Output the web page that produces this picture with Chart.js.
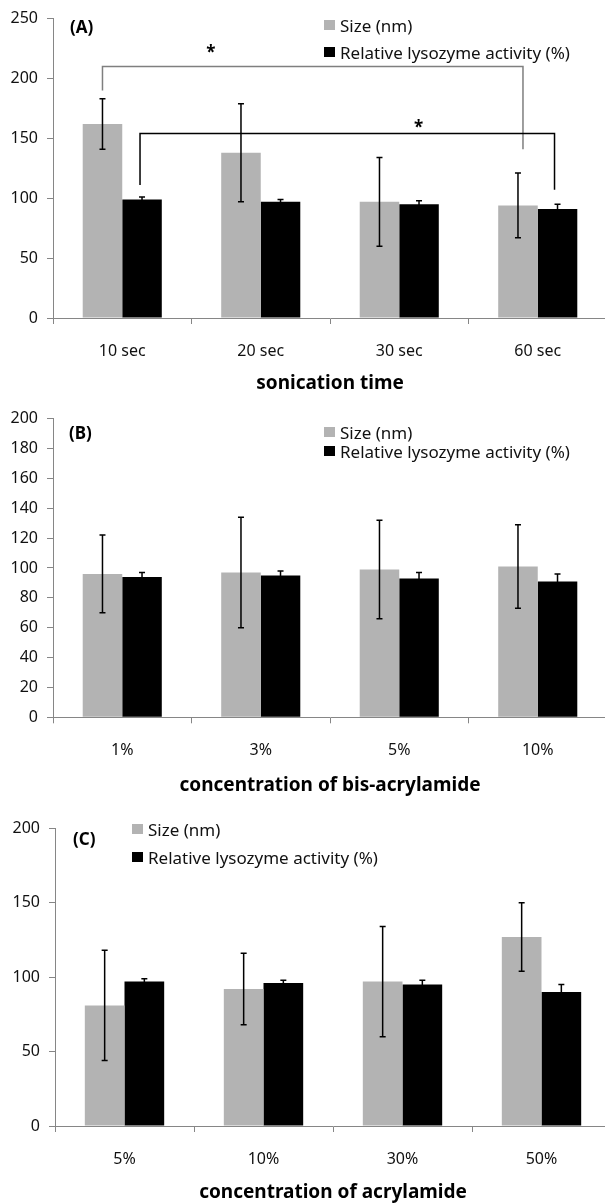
<!DOCTYPE html>
<html>
<head>
<meta charset="utf-8">
<script src="https://cdn.jsdelivr.net/npm/chart.js@4.4.1/dist/chart.umd.min.js"></script>
<style>
  html, body { margin: 0; padding: 0; background: #fff; overflow: hidden; }
  body { width: 605px; height: 1204px; position: relative; }
  .panel { position: absolute; left: 0; }
</style>
</head>
<body>
<div class="panel" style="top:0;width:607px;height:400px"><canvas id="chartA"></canvas></div>
<div class="panel" style="top:400px;width:607px;height:405px"><canvas id="chartB"></canvas></div>
<div class="panel" style="top:805px;width:611px;height:399px"><canvas id="chartC"></canvas></div>
<script>
const seriesNames = ['Size (nm)', 'Relative lysozyme activity (%)'];

// (A) sonication time
const sonicLabels = ['10 sec', '20 sec', '30 sec', '60 sec'];
const sonicSize = [162, 138, 97, 94];
const sonicSizeErr = [21, 41, 37, 27];
const sonicActivity = [99, 97, 95, 91];
const sonicActivityErr = [2, 2, 3, 4];

// (B) bis-acrylamide
const bisLabels = ['1%', '3%', '5%', '10%'];
const bisSize = [96, 97, 99, 101];
const bisSizeErr = [26, 37, 33, 28];
const bisActivity = [94, 95, 93, 91];
const bisActivityErr = [3, 3, 4, 5];

// (C) acrylamide
const acrylLabels = ['5%', '10%', '30%', '50%'];
const acrylSize = [81, 92, 97, 127];
const acrylSizeErr = [37, 24, 37, 23];
const acrylActivity = [97, 96, 95, 90];
const acrylActivityErr = [2, 2, 3, 5];

// y axis ranges
const yMaxA = 250, yStepA = 50;
const yMaxB = 200, yStepB = 20;
const yMaxC = 200, yStepC = 50;

// significance brackets in (A): series, from/to category, top, feet, star position
const sigSeries = [0, 1];
const sigFrom = [0, 0];
const sigTo = [3, 3];
const sigTop = [210, 154];
const sigFootLeft = [190, 111];
const sigFootRight = [141, 107];
const sigStarX = [0.64, 2.14];
const sigStarY = [225, 162];

const FONT = '"Noto Sans", sans-serif';
const AXIS_GREY = '#868686';
const BAR_GREY = '#b3b3b3';

const errorBars = {
  id: 'errorBars',
  afterDatasetsDraw(chart) {
    const { ctx } = chart;
    const y = chart.scales.y;
    ctx.save();
    ctx.strokeStyle = '#000';
    ctx.lineWidth = 1.5;
    chart.data.datasets.forEach((ds, i) => {
      chart.getDatasetMeta(i).data.forEach((bar, j) => {
        const v = ds.data[j], e = ds.errors[j];
        const top = y.getPixelForValue(v + e);
        const bot = y.getPixelForValue(v - e);
        ctx.beginPath();
        ctx.moveTo(bar.x, bot); ctx.lineTo(bar.x, top);
        ctx.moveTo(bar.x - 3, top); ctx.lineTo(bar.x + 3, top);
        ctx.moveTo(bar.x - 3, bot); ctx.lineTo(bar.x + 3, bot);
        ctx.stroke();
      });
    });
    ctx.restore();
  }
};

const boxLegend = {
  id: 'boxLegend',
  afterDraw(chart, args, opts) {
    const { ctx } = chart;
    ctx.save();
    ctx.font = '17px ' + FONT;
    ctx.textBaseline = 'middle';
    chart.data.datasets.forEach((ds, i) => {
      const top = opts.y + i * opts.gap;
      ctx.fillStyle = ds.backgroundColor;
      ctx.fillRect(opts.x, top, 11, 10);
      ctx.fillStyle = '#111';
      ctx.fillText(ds.label, opts.x + 16, top + 7);
    });
    // panel tag
    ctx.font = 'bold 17px ' + FONT;
    ctx.fillStyle = '#000';
    ctx.fillText(opts.tag, opts.tagX, opts.tagY);
    ctx.restore();
  }
};

const sigMarks = {
  id: 'sigMarks',
  afterDraw(chart, args, opts) {
    if (!opts.show) return;
    const { ctx } = chart;
    const x = chart.scales.x, y = chart.scales.y;
    const colors = ['#7f7f7f', '#000'];
    const nudge = [5, -3];
    ctx.save();
    ctx.lineWidth = 1.5;
    sigSeries.forEach((s, k) => {
      const bars = chart.getDatasetMeta(s).data;
      const x1 = bars[sigFrom[k]].x - (k ? 2 : 0);
      const x2 = bars[sigTo[k]].x + nudge[k];
      ctx.strokeStyle = colors[k];
      ctx.beginPath();
      ctx.moveTo(x1, y.getPixelForValue(sigFootLeft[k]));
      ctx.lineTo(x1, y.getPixelForValue(sigTop[k]));
      ctx.lineTo(x2, y.getPixelForValue(sigTop[k]));
      ctx.lineTo(x2, y.getPixelForValue(sigFootRight[k]));
      ctx.stroke();
      ctx.fillStyle = '#000';
      ctx.font = 'bold 17px ' + FONT;
      ctx.textAlign = 'center';
      ctx.textBaseline = 'alphabetic';
      ctx.fillText('*', x.getPixelForValue(sigStarX[k]), y.getPixelForValue(sigStarY[k]) + 9);
    });
    ctx.restore();
  }
};

function makeChart(id, labels, size, sizeErr, act, actErr, axisTitle, yMax, yStep, L) {
  return new Chart(document.getElementById(id), {
    type: 'bar',
    data: {
      labels: labels,
      datasets: [
        { label: seriesNames[0], data: size, errors: sizeErr, backgroundColor: BAR_GREY, borderWidth: 0 },
        { label: seriesNames[1], data: act, errors: actErr, backgroundColor: '#000', borderWidth: 0 }
      ]
    },
    options: {
      responsive: true,
      maintainAspectRatio: false,
      animation: false,
      categoryPercentage: 0.571,
      barPercentage: 1.0,
      layout: { padding: { top: L.padTop, left: 0, right: 0, bottom: 0 } },
      plugins: {
        legend: { display: false },
        tooltip: { enabled: false },
        boxLegend: L.legend,
        sigMarks: { show: !!L.sig }
      },
      scales: {
        x: {
          afterFit(s) { s.height = L.xHeight; },
          border: { color: AXIS_GREY, width: 1 },
          grid: { drawOnChartArea: false, drawTicks: true, tickLength: 6, color: AXIS_GREY, offset: true },
          ticks: { color: '#111', font: { family: FONT, size: 16 }, padding: 18 },
          title: {
            display: true, text: axisTitle, color: '#000',
            font: { family: FONT, size: 19, weight: 'bold' },
            padding: { top: 0, bottom: L.titlePad }
          }
        },
        y: {
          min: 0, max: yMax,
          afterFit(s) { s.width = L.yWidth; },
          border: { color: AXIS_GREY, width: 1 },
          grid: { drawOnChartArea: false, drawTicks: true, tickLength: 6, color: AXIS_GREY },
          ticks: { stepSize: yStep, color: '#111', font: { family: FONT, size: 16 }, padding: 9 }
        }
      }
    },
    plugins: [errorBars, boxLegend, sigMarks]
  });
}

makeChart('chartA', sonicLabels, sonicSize, sonicSizeErr, sonicActivity, sonicActivityErr,
  'sonication time', yMaxA, yStepA,
  { padTop: 17.7, xHeight: 82, titlePad: 5, yWidth: 53, sig: true,
    legend: { x: 324, y: 20, gap: 27, tag: '(A)', tagX: 70, tagY: 28 } });

makeChart('chartB', bisLabels, bisSize, bisSizeErr, bisActivity, bisActivityErr,
  'concentration of bis-acrylamide', yMaxB, yStepB,
  { padTop: 17.3, xHeight: 87.7, titlePad: 8, yWidth: 53,
    legend: { x: 324, y: 27, gap: 19, tag: '(B)', tagX: 69, tagY: 34 } });

makeChart('chartC', acrylLabels, acrylSize, acrylSizeErr, acrylActivity, acrylActivityErr,
  'concentration of acrylamide', yMaxC, yStepC,
  { padTop: 23.3, xHeight: 78, titlePad: 0, yWidth: 55,
    legend: { x: 132, y: 19, gap: 28, tag: '(C)', tagX: 73, tagY: 35 } });
</script>
</body>
</html>
